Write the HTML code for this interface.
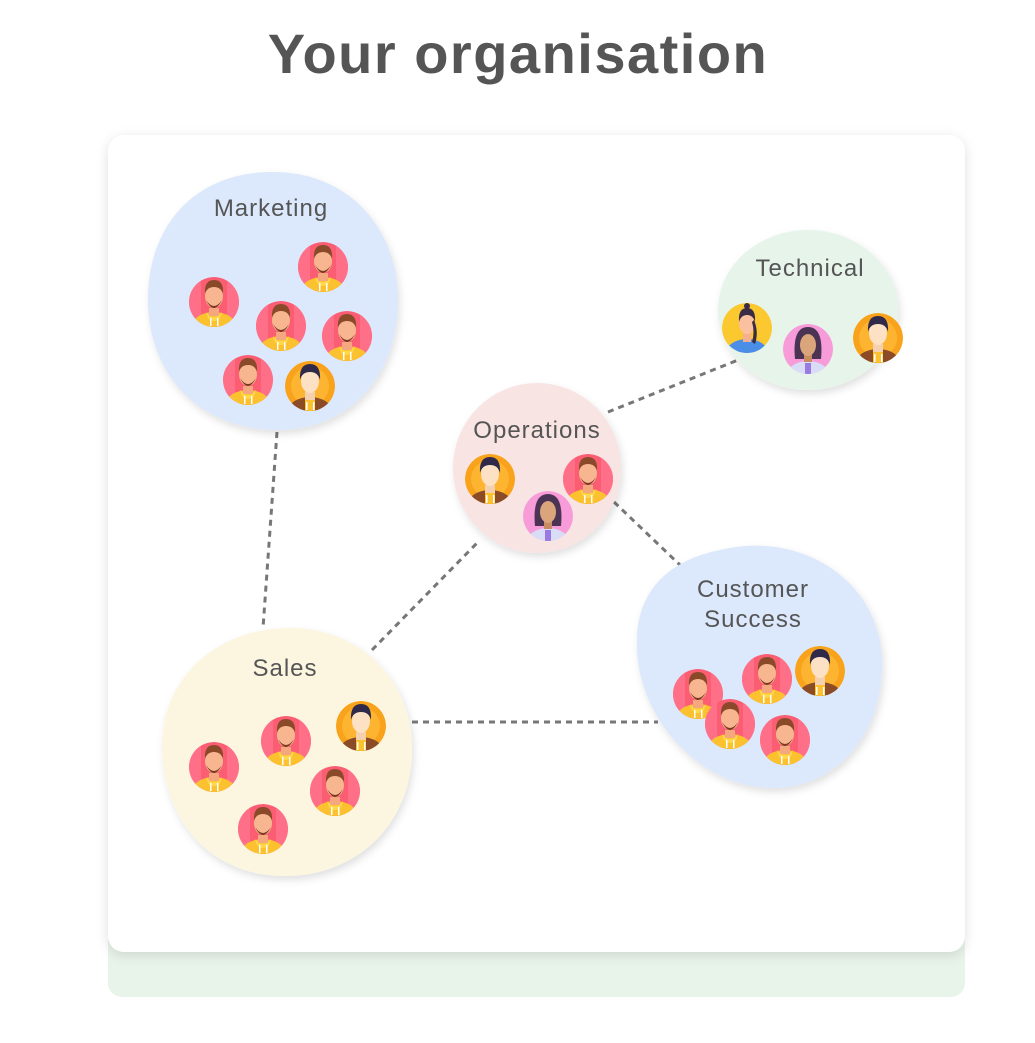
<!DOCTYPE html>
<html><head><meta charset="utf-8"><style>
html,body{margin:0;padding:0;background:#fff;width:1035px;height:1043px;overflow:hidden}
svg{display:block}
</style></head><body>
<svg width="1035" height="1043" viewBox="0 0 1035 1043" xmlns="http://www.w3.org/2000/svg">
<defs>
<filter id="sh" x="-10%" y="-10%" width="120%" height="120%"><feDropShadow dx="0" dy="3" stdDeviation="6" flood-color="#000" flood-opacity="0.12"/></filter>
<filter id="bs" x="-20%" y="-20%" width="140%" height="140%"><feDropShadow dx="2" dy="4" stdDeviation="4" flood-color="#000" flood-opacity="0.12"/></filter>
<clipPath id="cc"><circle cx="0" cy="0" r="25"/></clipPath>
<g id="A"><g clip-path="url(#cc)"><circle r="25" fill="#fb5d73"/><rect x="-25" y="-25" width="12" height="50" fill="#ff7088"/><rect x="13" y="-25" width="12" height="50" fill="#ff7088"/><ellipse cx="0" cy="24" rx="22" ry="14" fill="#fcc12e"/><path d="M-8 10 Q0 20 8 10 L6 16 Q0 22 -6 16Z" fill="#ffd84a"/><rect x="-5" y="6" width="10" height="8" fill="#f5a880"/><ellipse cx="0" cy="-6" rx="9" ry="12" fill="#f8b690"/><path d="M-9 -8 Q-10 -22 0 -22 Q10 -22 9 -8 Q7 -15 0 -15 Q-7 -15 -9 -8Z" fill="#8a4a2a"/><path d="M-8 -2 Q0 14 8 -2 Q4 4 0 4 Q-4 4 -8 -2Z" fill="#7a3a20"/><rect x="-4" y="16" width="1.5" height="8" fill="#fff"/><rect x="3" y="16" width="1.5" height="8" fill="#fff"/></g></g>
<g id="B"><g clip-path="url(#cc)"><circle r="25" fill="#f9a21b"/><circle r="19" fill="#fdb531"/><ellipse cx="0" cy="25" rx="22" ry="14" fill="#8a4b26"/><rect x="-5" y="12" width="10" height="14" fill="#fcc12e"/><rect x="-5" y="6" width="10" height="8" fill="#f5d0ae"/><ellipse cx="0" cy="-5" rx="9" ry="12" fill="#fde1c5"/><path d="M-10 -6 Q-11 -22 0 -22 Q11 -22 10 -6 Q8 -14 0 -14 Q-8 -14 -10 -6Z" fill="#2f2a4a"/><rect x="-4" y="16" width="1.5" height="8" fill="#fff"/><rect x="3" y="16" width="1.5" height="8" fill="#fff"/></g></g>
<g id="C"><g clip-path="url(#cc)"><circle r="25" fill="#f79bd9"/><path d="M-13 10 Q-16 -22 0 -22 Q16 -22 13 10Z" fill="#4b3354"/><ellipse cx="0" cy="26" rx="21" ry="14" fill="#d9dcf7"/><rect x="-3" y="14" width="6" height="14" fill="#9a7ae0"/><rect x="-4" y="4" width="8" height="9" fill="#c98c62"/><ellipse cx="0" cy="-4" rx="8" ry="11" fill="#dba57c"/></g></g>
<g id="D"><g clip-path="url(#cc)"><circle r="25" fill="#fcc830"/><ellipse cx="0" cy="25" rx="21" ry="14" fill="#4a8ee8"/><rect x="-4" y="5" width="8" height="9" fill="#f5b090"/><ellipse cx="0" cy="-5" rx="8" ry="11" fill="#fbc0a0"/><path d="M-8 -6 Q-9 -20 0 -20 Q9 -20 8 -6 Q6 -13 0 -13 Q-6 -13 -8 -6Z" fill="#3a2c44"/><path d="M7 -8 Q12 4 8 16 L5 14 Q8 4 5 -6Z" fill="#3a2c44"/><circle cx="0" cy="-22" r="3" fill="#3a2c44"/></g></g>
</defs>

<text x="518" y="73" text-anchor="middle" font-family="Liberation Sans, sans-serif" font-weight="bold" font-size="56" letter-spacing="1.5" fill="#555">Your organisation</text>

<rect x="108" y="900" width="857" height="97" rx="14" fill="#e8f3e9"/>
<rect x="108" y="135" width="857" height="817" rx="16" fill="#fff" filter="url(#sh)"/>

<g fill="none" stroke="#777" stroke-width="3" stroke-dasharray="6 5">
<line x1="277" y1="432" x2="263" y2="628"/>
<line x1="608" y1="412" x2="738" y2="360"/>
<line x1="372" y1="650" x2="478" y2="542"/>
<line x1="614" y1="502" x2="680" y2="565"/>
<line x1="412" y1="722" x2="658" y2="722"/>
</g>

<g filter="url(#bs)">
<path d="M273 172 C350 172 398 230 398 300 C398 375 350 430 278 430 C200 430 148 375 148 300 C148 225 195 172 273 172Z" fill="#dce8fb"/>
<ellipse cx="808" cy="310" rx="90" ry="80" fill="#e6f4ea"/>
<ellipse cx="537" cy="468" rx="84" ry="85" fill="#f7e4e3"/>
<path d="M720 550 C800 530 880 580 882 660 C884 740 830 790 770 788 C700 786 640 720 637 650 C634 590 670 560 720 550Z" fill="#dce8fb"/>
<path d="M290 628 C360 628 412 680 412 750 C412 820 360 876 285 876 C210 876 162 820 162 745 C162 680 215 628 290 628Z" fill="#fcf6e1"/>
</g>

<g font-family="Liberation Sans, sans-serif" font-size="24" letter-spacing="1" fill="#555" text-anchor="middle">
<text x="271" y="216">Marketing</text>
<text x="810" y="276">Technical</text>
<text x="537" y="438">Operations</text>
<text x="753" y="597">Customer</text>
<text x="753" y="627">Success</text>
<text x="285" y="676">Sales</text>
</g>

<use href="#A" x="214" y="302"/><use href="#A" x="323" y="267"/><use href="#A" x="281" y="326"/><use href="#A" x="347" y="336"/><use href="#A" x="248" y="380"/><use href="#B" x="310" y="386"/>
<use href="#D" x="747" y="328"/><use href="#C" x="808" y="349"/><use href="#B" x="878" y="338"/>
<use href="#B" x="490" y="479"/><use href="#A" x="588" y="479"/><use href="#C" x="548" y="516"/>
<use href="#A" x="698" y="694"/><use href="#A" x="767" y="679"/><use href="#B" x="820" y="671"/><use href="#A" x="730" y="724"/><use href="#A" x="785" y="740"/>
<use href="#A" x="214" y="767"/><use href="#A" x="286" y="741"/><use href="#B" x="361" y="726"/><use href="#A" x="335" y="791"/><use href="#A" x="263" y="829"/>
</svg>
</body></html>
